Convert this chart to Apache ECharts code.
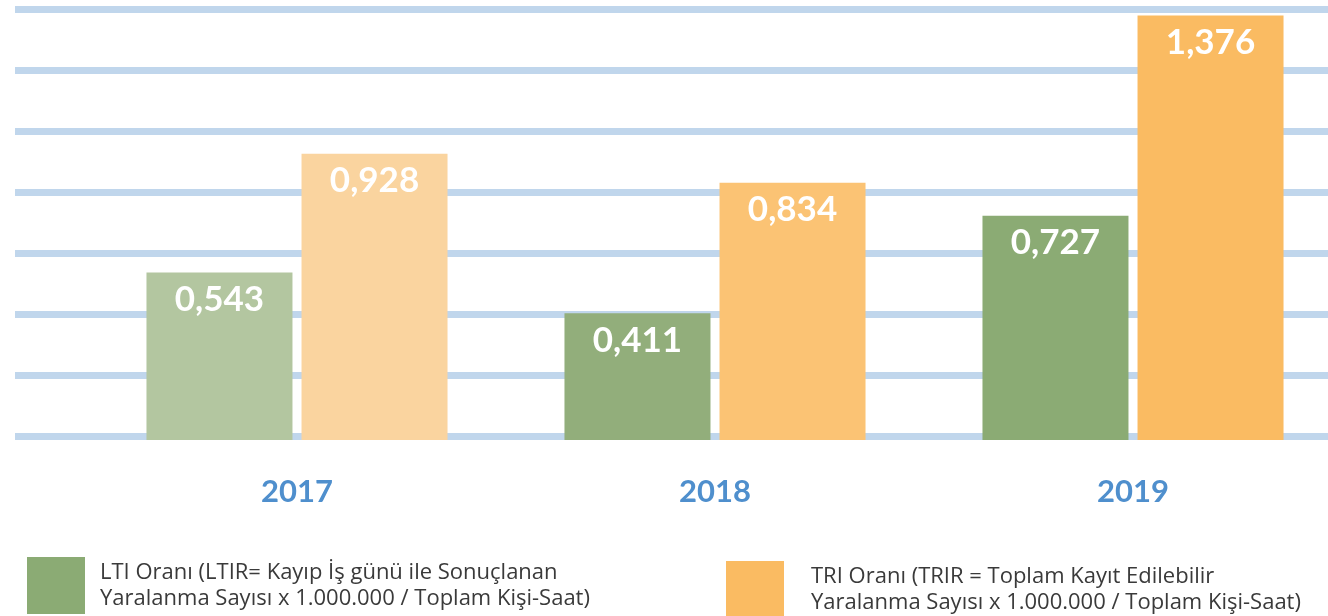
<!DOCTYPE html>
<html>
<head>
<meta charset="utf-8">
<script src="https://cdn.jsdelivr.net/npm/echarts@6/dist/echarts.min.js"></script>
<style>
  html, body { margin: 0; padding: 0; background: #fff; overflow: hidden; }
  /* a bit wider than the window so the last group can sit past the edge like in the source */
  #chart { width: 1350px; height: 616px; }
</style>
</head>
<body>
<div id="chart"></div>
<script>
const years = ['2017', '2018', '2019']
const ltiValues = [0.543, 0.411, 0.727]
const triValues = [0.928, 0.834, 1.376]
const yMin = 0
const yMax = 1.4
const yStep = 0.2
const seriesNames = ['LTI Oranı', 'TRI Oranı']
const legendLabels = [
  'LTI Oranı (LTIR= Kayıp İş günü ile Sonuçlanan\nYaralanma Sayısı x 1.000.000 / Toplam Kişi-Saat)',
  'TRI Oranı (TRIR = Toplam Kayıt Edilebilir\nYaralanma Sayısı x 1.000.000 / Toplam Kişi-Saat)'
]

// each year gets a slightly different shade
const ltiColors = ['#b3c6a0', '#92ae7b', '#8bab74']
const triColors = ['#fad49f', '#fbc374', '#fabb62']

const chart = echarts.init(document.getElementById('chart'))

const fmt = v => v.toFixed(3).replace('.', ',')

const valueLabel = {
  show: true,
  position: 'insideTop',
  distance: 10,
  color: '#fff',
  fontFamily: 'Lato',
  fontWeight: 'bold',
  fontSize: 35,
  formatter: p => fmt(p.value)
}

const legendText = {
  fontFamily: 'Open Sans',
  fontSize: 22,
  lineHeight: 26,
  color: '#3a3a3a'
}

const option = {
  animation: false,
  grid: [
    // background grid lines
    { left: 15, right: 22, top: 9, height: 427 },
    // bars
    { left: 88, width: 1254, top: 8, height: 432 }
  ],
  xAxis: [
    { gridIndex: 0, type: 'category', data: years, show: false },
    {
      gridIndex: 1,
      type: 'category',
      data: years,
      axisLine: { show: false },
      axisTick: { show: false },
      axisLabel: {
        margin: 36,
        color: '#4f8fcd',
        fontFamily: 'Lato',
        fontWeight: 'bold',
        fontSize: 31
      }
    }
  ],
  yAxis: [
    {
      gridIndex: 0,
      type: 'value',
      min: yMin,
      max: yMax,
      interval: yStep,
      axisLine: { show: false },
      axisTick: { show: false },
      axisLabel: { show: false },
      splitLine: { lineStyle: { color: '#c0d6ec', width: 7 } }
    },
    {
      gridIndex: 1,
      type: 'value',
      min: yMin,
      max: yMax,
      interval: yStep,
      show: false,
      splitLine: { show: false }
    }
  ],
  legend: [
    {
      left: 27,
      top: 556,
      padding: 0,
      icon: 'rect',
      itemWidth: 58,
      itemHeight: 57,
      selectedMode: false,
      data: [{ name: seriesNames[0], itemStyle: { color: ltiColors[2] } }],
      formatter: () => legendLabels[0],
      textStyle: Object.assign({ padding: [7, 0, 0, 10] }, legendText)
    },
    {
      left: 726,
      top: 558,
      padding: 0,
      icon: 'rect',
      itemWidth: 58,
      itemHeight: 57,
      selectedMode: false,
      data: [{ name: seriesNames[1], itemStyle: { color: triColors[2] } }],
      formatter: () => legendLabels[1],
      textStyle: Object.assign({ padding: [0, 0, 11, 22] }, legendText)
    }
  ],
  series: [
    {
      name: seriesNames[0],
      type: 'bar',
      xAxisIndex: 1,
      yAxisIndex: 1,
      data: ltiValues,
      barWidth: 146,
      barGap: '6.2%',
      itemStyle: { color: p => ltiColors[p.dataIndex] },
      label: valueLabel
    },
    {
      name: seriesNames[1],
      type: 'bar',
      xAxisIndex: 1,
      yAxisIndex: 1,
      data: triValues,
      barWidth: 146,
      barGap: '6.2%',
      itemStyle: { color: p => triColors[p.dataIndex] },
      label: valueLabel
    }
  ]
}

chart.setOption(option)
</script>
</body>
</html>
